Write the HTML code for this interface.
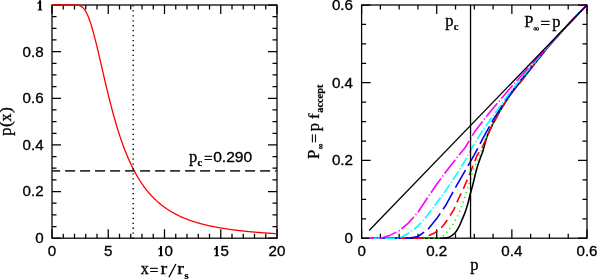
<!DOCTYPE html>
<html><head><meta charset="utf-8"><title>plot</title>
<style>html,body{margin:0;padding:0;background:#fff;}svg{display:block;will-change:transform;}</style></head>
<body><svg width="597" height="279" viewBox="0 0 597 279">
<rect width="597" height="279" fill="#fff"/>
<rect x="52.0" y="5.0" width="225.0" height="233.2" fill="none" stroke="#000" stroke-width="1.25"/>
<path d="M52.00 238.20v-9.0M52.00 5.00v9.0M63.25 238.20v-4.5M63.25 5.00v4.5M74.50 238.20v-4.5M74.50 5.00v4.5M85.75 238.20v-4.5M85.75 5.00v4.5M97.00 238.20v-4.5M97.00 5.00v4.5M108.25 238.20v-9.0M108.25 5.00v9.0M119.50 238.20v-4.5M119.50 5.00v4.5M130.75 238.20v-4.5M130.75 5.00v4.5M142.00 238.20v-4.5M142.00 5.00v4.5M153.25 238.20v-4.5M153.25 5.00v4.5M164.50 238.20v-9.0M164.50 5.00v9.0M175.75 238.20v-4.5M175.75 5.00v4.5M187.00 238.20v-4.5M187.00 5.00v4.5M198.25 238.20v-4.5M198.25 5.00v4.5M209.50 238.20v-4.5M209.50 5.00v4.5M220.75 238.20v-9.0M220.75 5.00v9.0M232.00 238.20v-4.5M232.00 5.00v4.5M243.25 238.20v-4.5M243.25 5.00v4.5M254.50 238.20v-4.5M254.50 5.00v4.5M265.75 238.20v-4.5M265.75 5.00v4.5M277.00 238.20v-9.0M277.00 5.00v9.0M52.00 238.20h9.0M277.00 238.20h-9.0M52.00 226.54h4.5M277.00 226.54h-4.5M52.00 214.88h4.5M277.00 214.88h-4.5M52.00 203.22h4.5M277.00 203.22h-4.5M52.00 191.56h9.0M277.00 191.56h-9.0M52.00 179.90h4.5M277.00 179.90h-4.5M52.00 168.24h4.5M277.00 168.24h-4.5M52.00 156.58h4.5M277.00 156.58h-4.5M52.00 144.92h9.0M277.00 144.92h-9.0M52.00 133.26h4.5M277.00 133.26h-4.5M52.00 121.60h4.5M277.00 121.60h-4.5M52.00 109.94h4.5M277.00 109.94h-4.5M52.00 98.28h9.0M277.00 98.28h-9.0M52.00 86.62h4.5M277.00 86.62h-4.5M52.00 74.96h4.5M277.00 74.96h-4.5M52.00 63.30h4.5M277.00 63.30h-4.5M52.00 51.64h9.0M277.00 51.64h-9.0M52.00 39.98h4.5M277.00 39.98h-4.5M52.00 28.32h4.5M277.00 28.32h-4.5M52.00 16.66h4.5M277.00 16.66h-4.5M52.00 5.00h9.0M277.00 5.00h-9.0" stroke="#000" stroke-width="1.25" fill="none"/>
<path d="M52.00 5.00 L52.56 5.00 L53.13 5.00 L53.69 5.00 L54.26 5.00 L54.82 5.00 L55.38 5.00 L55.95 5.00 L56.51 5.00 L57.08 5.00 L57.64 5.00 L58.20 5.00 L58.77 5.00 L59.33 5.00 L59.89 5.00 L60.46 5.00 L61.02 5.00 L61.59 5.00 L62.15 5.00 L62.71 5.00 L63.28 5.00 L63.84 5.00 L64.41 5.00 L64.97 5.00 L65.53 5.00 L66.10 5.00 L66.66 5.00 L67.23 5.00 L67.79 5.00 L68.35 5.00 L68.92 5.00 L69.48 5.00 L70.05 5.00 L70.61 5.00 L71.17 5.00 L71.74 5.00 L72.30 5.00 L72.86 5.00 L73.43 5.01 L73.99 5.01 L74.56 5.02 L75.12 5.03 L75.68 5.05 L76.25 5.08 L76.81 5.12 L77.38 5.18 L77.94 5.25 L78.50 5.36 L79.07 5.49 L79.63 5.66 L80.20 5.88 L80.76 6.14 L81.32 6.46 L81.89 6.84 L82.45 7.29 L83.02 7.81 L83.58 8.40 L84.14 9.08 L84.71 9.84 L85.27 10.69 L85.83 11.63 L86.40 12.65 L86.96 13.78 L87.53 14.99 L88.09 16.29 L88.65 17.68 L89.22 19.17 L89.78 20.73 L90.35 22.38 L90.91 24.11 L91.47 25.92 L92.04 27.79 L92.60 29.74 L93.17 31.75 L93.73 33.82 L94.29 35.94 L94.86 38.12 L95.42 40.34 L95.98 42.60 L96.55 44.90 L97.11 47.23 L97.68 49.59 L98.24 51.97 L98.80 54.37 L99.37 56.79 L99.93 59.23 L100.50 61.67 L101.06 64.12 L101.62 66.57 L102.19 69.02 L102.75 71.46 L103.32 73.91 L103.88 76.34 L104.44 78.76 L105.01 81.17 L105.57 83.57 L106.14 85.94 L106.70 88.30 L107.26 90.64 L107.83 92.96 L108.39 95.26 L108.95 97.53 L109.52 99.78 L110.08 102.01 L110.65 104.20 L111.21 106.37 L111.77 108.51 L112.34 110.63 L112.90 112.71 L113.47 114.77 L114.03 116.80 L114.59 118.79 L115.16 120.76 L115.72 122.70 L116.29 124.61 L116.85 126.49 L117.41 128.33 L117.98 130.15 L118.54 131.94 L119.11 133.70 L119.67 135.43 L120.23 137.13 L120.80 138.80 L121.36 140.44 L121.92 142.06 L122.49 143.64 L123.05 145.20 L123.62 146.73 L124.18 148.23 L124.74 149.71 L125.31 151.16 L125.87 152.58 L126.44 153.98 L127.00 155.35 L127.56 156.70 L128.13 158.02 L128.69 159.31 L129.26 160.59 L129.82 161.84 L130.38 163.07 L130.95 164.27 L131.51 165.45 L132.08 166.61 L132.64 167.75 L133.20 168.87 L133.77 169.96 L134.33 171.04 L134.89 172.10 L135.46 173.13 L136.02 174.15 L136.59 175.15 L137.15 176.13 L137.71 177.09 L138.28 178.03 L138.84 178.96 L139.41 179.87 L139.97 180.76 L140.53 181.63 L141.10 182.49 L141.66 183.34 L142.23 184.16 L142.79 184.98 L143.35 185.77 L143.92 186.56 L144.48 187.33 L145.05 188.08 L145.61 188.82 L146.17 189.55 L146.74 190.26 L147.30 190.96 L147.86 191.65 L148.43 192.33 L148.99 192.99 L149.56 193.64 L150.12 194.28 L150.68 194.91 L151.25 195.53 L151.81 196.13 L152.38 196.73 L152.94 197.32 L153.50 197.89 L154.07 198.45 L154.63 199.01 L155.20 199.55 L155.76 200.09 L156.32 200.62 L156.89 201.13 L157.45 201.64 L158.02 202.14 L158.58 202.63 L159.14 203.11 L159.71 203.58 L160.27 204.05 L160.83 204.51 L161.40 204.96 L161.96 205.40 L162.53 205.83 L163.09 206.26 L163.65 206.68 L164.22 207.10 L164.78 207.50 L165.35 207.90 L165.91 208.29 L166.47 208.68 L167.04 209.06 L167.60 209.43 L168.17 209.80 L168.73 210.16 L169.29 210.52 L169.86 210.87 L170.42 211.21 L170.98 211.55 L171.55 211.88 L172.11 212.21 L172.68 212.53 L173.24 212.85 L173.80 213.16 L174.37 213.47 L174.93 213.77 L175.50 214.07 L176.06 214.36 L176.62 214.65 L177.19 214.94 L177.75 215.22 L178.32 215.49 L178.88 215.76 L179.44 216.03 L180.01 216.29 L180.57 216.55 L181.14 216.81 L181.70 217.06 L182.26 217.30 L182.83 217.55 L183.39 217.79 L183.95 218.02 L184.52 218.25 L185.08 218.48 L185.65 218.71 L186.21 218.93 L186.77 219.15 L187.34 219.37 L187.90 219.58 L188.47 219.79 L189.03 219.99 L189.59 220.20 L190.16 220.40 L190.72 220.60 L191.29 220.79 L191.85 220.98 L192.41 221.17 L192.98 221.36 L193.54 221.54 L194.11 221.72 L194.67 221.90 L195.23 222.08 L195.80 222.25 L196.36 222.42 L196.92 222.59 L197.49 222.76 L198.05 222.92 L198.62 223.08 L199.18 223.24 L199.74 223.40 L200.31 223.55 L200.87 223.71 L201.44 223.86 L202.00 224.01 L202.56 224.15 L203.13 224.30 L203.69 224.44 L204.26 224.58 L204.82 224.72 L205.38 224.86 L205.95 224.99 L206.51 225.13 L207.08 225.26 L207.64 225.39 L208.20 225.52 L208.77 225.65 L209.33 225.77 L209.89 225.89 L210.46 226.02 L211.02 226.14 L211.59 226.25 L212.15 226.37 L212.71 226.49 L213.28 226.60 L213.84 226.71 L214.41 226.83 L214.97 226.94 L215.53 227.04 L216.10 227.15 L216.66 227.26 L217.23 227.36 L217.79 227.46 L218.35 227.57 L218.92 227.67 L219.48 227.77 L220.05 227.86 L220.61 227.96 L221.17 228.06 L221.74 228.15 L222.30 228.24 L222.86 228.34 L223.43 228.43 L223.99 228.52 L224.56 228.61 L225.12 228.69 L225.68 228.78 L226.25 228.87 L226.81 228.95 L227.38 229.04 L227.94 229.12 L228.50 229.20 L229.07 229.28 L229.63 229.36 L230.20 229.44 L230.76 229.52 L231.32 229.59 L231.89 229.67 L232.45 229.75 L233.02 229.82 L233.58 229.89 L234.14 229.97 L234.71 230.04 L235.27 230.11 L235.83 230.18 L236.40 230.25 L236.96 230.32 L237.53 230.38 L238.09 230.45 L238.65 230.52 L239.22 230.58 L239.78 230.65 L240.35 230.71 L240.91 230.77 L241.47 230.84 L242.04 230.90 L242.60 230.96 L243.17 231.02 L243.73 231.08 L244.29 231.14 L244.86 231.20 L245.42 231.26 L245.98 231.31 L246.55 231.37 L247.11 231.43 L247.68 231.48 L248.24 231.54 L248.80 231.59 L249.37 231.65 L249.93 231.70 L250.50 231.75 L251.06 231.80 L251.62 231.85 L252.19 231.91 L252.75 231.96 L253.32 232.01 L253.88 232.05 L254.44 232.10 L255.01 232.15 L255.57 232.20 L256.14 232.25 L256.70 232.29 L257.26 232.34 L257.83 232.39 L258.39 232.43 L258.95 232.48 L259.52 232.52 L260.08 232.56 L260.65 232.61 L261.21 232.65 L261.77 232.69 L262.34 232.74 L262.90 232.78 L263.47 232.82 L264.03 232.86 L264.59 232.90 L265.16 232.94 L265.72 232.98 L266.29 233.02 L266.85 233.06 L267.41 233.10 L267.98 233.13 L268.54 233.17 L269.11 233.21 L269.67 233.25 L270.23 233.28 L270.80 233.32 L271.36 233.36 L271.92 233.39 L272.49 233.43 L273.05 233.46 L273.62 233.50 L274.18 233.53 L274.74 233.56 L275.31 233.60 L275.87 233.63 L276.44 233.66 L277.00 233.70" stroke="#f00" stroke-width="1.3" fill="none" stroke-linejoin="round"/>
<path d="M52.0 170.87H277.0" stroke="#333" stroke-width="1.8" stroke-dasharray="10 5" stroke-dashoffset="1.9" fill="none"/>
<path d="M133.2 238.79999999999998V5.0" stroke="#000" stroke-width="1.4" stroke-dasharray="1.3 3.64" fill="none"/>
<text transform="translate(43.60 243.10) scale(1.1 1)" text-anchor="end" font-family="Liberation Sans, sans-serif" font-size="13.8" stroke="#000" stroke-width="0.3" >0</text>
<text transform="translate(43.60 196.46) scale(1.1 1)" text-anchor="end" font-family="Liberation Sans, sans-serif" font-size="13.8" stroke="#000" stroke-width="0.3" >0.2</text>
<text transform="translate(43.60 149.82) scale(1.1 1)" text-anchor="end" font-family="Liberation Sans, sans-serif" font-size="13.8" stroke="#000" stroke-width="0.3" >0.4</text>
<text transform="translate(43.60 103.18) scale(1.1 1)" text-anchor="end" font-family="Liberation Sans, sans-serif" font-size="13.8" stroke="#000" stroke-width="0.3" >0.6</text>
<text transform="translate(43.60 56.54) scale(1.1 1)" text-anchor="end" font-family="Liberation Sans, sans-serif" font-size="13.8" stroke="#000" stroke-width="0.3" >0.8</text>
<path d="M39.10 0.30h2v9.1h1.1v1h-4.5v-1h1.4v-6.3l-1.5 1-0.5-0.9 2-1.6z" fill="#000"/>
<text transform="translate(52.00 256.20) scale(1.1 1)" text-anchor="middle" font-family="Liberation Sans, sans-serif" font-size="13.8" stroke="#000" stroke-width="0.3" >0</text>
<text transform="translate(108.25 256.20) scale(1.1 1)" text-anchor="middle" font-family="Liberation Sans, sans-serif" font-size="13.8" stroke="#000" stroke-width="0.3" >5</text>
<text transform="translate(277.00 256.20) scale(1.1 1)" text-anchor="middle" font-family="Liberation Sans, sans-serif" font-size="13.8" stroke="#000" stroke-width="0.3" >20</text>
<path d="M160.00 246.10h2v9.1h1.1v1h-4.5v-1h1.4v-6.3l-1.5 1-0.5-0.9 2-1.6z" fill="#000"/>
<text transform="translate(164.50 256.20) scale(1.1 1)" text-anchor="start" font-family="Liberation Sans, sans-serif" font-size="13.8" stroke="#000" stroke-width="0.3" >0</text>
<path d="M215.80 246.10h2v9.1h1.1v1h-4.5v-1h1.4v-6.3l-1.5 1-0.5-0.9 2-1.6z" fill="#000"/>
<text transform="translate(220.60 256.20) scale(1.1 1)" text-anchor="start" font-family="Liberation Sans, sans-serif" font-size="13.8" stroke="#000" stroke-width="0.3" >5</text>
<text transform="translate(353.00 243.10) scale(1.1 1)" text-anchor="end" font-family="Liberation Sans, sans-serif" font-size="13.8" stroke="#000" stroke-width="0.3" >0</text>
<text transform="translate(361.60 256.20) scale(1.1 1)" text-anchor="middle" font-family="Liberation Sans, sans-serif" font-size="13.8" stroke="#000" stroke-width="0.3" >0</text>
<text transform="translate(353.00 165.37) scale(1.1 1)" text-anchor="end" font-family="Liberation Sans, sans-serif" font-size="13.8" stroke="#000" stroke-width="0.3" >0.2</text>
<text transform="translate(436.73 256.20) scale(1.1 1)" text-anchor="middle" font-family="Liberation Sans, sans-serif" font-size="13.8" stroke="#000" stroke-width="0.3" >0.2</text>
<text transform="translate(353.00 87.63) scale(1.1 1)" text-anchor="end" font-family="Liberation Sans, sans-serif" font-size="13.8" stroke="#000" stroke-width="0.3" >0.4</text>
<text transform="translate(511.87 256.20) scale(1.1 1)" text-anchor="middle" font-family="Liberation Sans, sans-serif" font-size="13.8" stroke="#000" stroke-width="0.3" >0.4</text>
<text transform="translate(353.00 9.90) scale(1.1 1)" text-anchor="end" font-family="Liberation Sans, sans-serif" font-size="13.8" stroke="#000" stroke-width="0.3" >0.6</text>
<text transform="translate(587.00 256.20) scale(1.1 1)" text-anchor="middle" font-family="Liberation Sans, sans-serif" font-size="13.8" stroke="#000" stroke-width="0.3" >0.6</text>
<rect x="361.6" y="5.0" width="225.39999999999998" height="233.2" fill="none" stroke="#000" stroke-width="1.25"/>
<path d="M361.60 238.20v-9.0M361.60 5.00v9.0M380.38 238.20v-4.5M380.38 5.00v4.5M399.17 238.20v-4.5M399.17 5.00v4.5M417.95 238.20v-4.5M417.95 5.00v4.5M436.73 238.20v-9.0M436.73 5.00v9.0M455.52 238.20v-4.5M455.52 5.00v4.5M474.30 238.20v-4.5M474.30 5.00v4.5M493.08 238.20v-4.5M493.08 5.00v4.5M511.87 238.20v-9.0M511.87 5.00v9.0M530.65 238.20v-4.5M530.65 5.00v4.5M549.43 238.20v-4.5M549.43 5.00v4.5M568.22 238.20v-4.5M568.22 5.00v4.5M587.00 238.20v-9.0M587.00 5.00v9.0M361.60 238.20h9.0M587.00 238.20h-9.0M361.60 218.77h4.5M587.00 218.77h-4.5M361.60 199.33h4.5M587.00 199.33h-4.5M361.60 179.90h4.5M587.00 179.90h-4.5M361.60 160.47h9.0M587.00 160.47h-9.0M361.60 141.03h4.5M587.00 141.03h-4.5M361.60 121.60h4.5M587.00 121.60h-4.5M361.60 102.17h4.5M587.00 102.17h-4.5M361.60 82.73h9.0M587.00 82.73h-9.0M361.60 63.30h4.5M587.00 63.30h-4.5M361.60 43.87h4.5M587.00 43.87h-4.5M361.60 24.43h4.5M587.00 24.43h-4.5M361.60 5.00h9.0M587.00 5.00h-9.0" stroke="#000" stroke-width="1.25" fill="none"/>
<clipPath id="rc"><rect x="361.6" y="4.0" width="226.39999999999998" height="235.2"/></clipPath>
<path d="M369.11 238.20 L369.86 238.20 L370.62 238.20 L371.37 238.20 L372.12 238.20 L372.87 238.20 L373.62 238.20 L374.37 238.20 L375.12 238.20 L375.88 238.20 L376.63 238.20 L377.38 238.20 L378.13 238.20 L378.88 238.20 L379.63 238.20 L380.38 238.20 L381.13 238.20 L381.89 238.20 L382.64 238.20 L383.39 238.20 L384.14 238.20 L384.89 238.20 L385.64 238.20 L386.39 238.20 L387.15 238.20 L387.90 238.20 L388.65 238.20 L389.40 238.20 L390.15 238.20 L390.90 238.20 L391.65 238.20 L392.40 238.20 L393.16 238.20 L393.91 238.20 L394.66 238.20 L395.41 238.20 L396.16 238.20 L396.91 238.20 L397.66 238.20 L398.42 238.20 L399.17 238.20 L399.92 238.20 L400.67 238.20 L401.42 238.20 L402.17 238.20 L402.92 238.20 L403.67 238.20 L404.43 238.20 L405.18 238.20 L405.93 238.20 L406.68 238.20 L407.43 238.20 L408.18 238.20 L408.93 238.20 L409.69 238.20 L410.44 238.20 L411.19 238.20 L411.94 238.20 L412.69 238.20 L413.44 238.20 L414.19 238.20 L414.94 238.20 L415.70 238.20 L416.45 238.20 L417.20 238.20 L417.95 238.20 L418.70 238.20 L419.45 238.20 L420.20 238.20 L420.96 238.20 L421.71 238.20 L422.46 238.20 L423.21 238.20 L423.96 238.20 L424.71 238.20 L425.46 238.20 L426.21 238.20 L426.97 238.20 L427.72 238.20 L428.47 238.20 L429.22 238.20 L429.97 238.20 L430.72 238.20 L431.47 238.20 L432.23 238.20 L432.98 238.20 L433.73 238.20 L434.48 238.20 L435.23 238.20 L435.98 238.20 L436.73 238.20 L437.48 238.20 L438.24 238.20 L438.99 238.20 L439.74 238.20 L440.49 238.20 L441.24 238.20 L441.99 238.19 L442.74 238.16 L443.50 238.10 L444.25 238.02 L445.00 237.93 L445.75 237.82 L446.50 237.70 L447.25 237.57 L448.00 237.42 L448.75 237.23 L449.51 236.94 L450.26 236.57 L451.01 236.14 L451.76 235.64 L452.51 235.08 L453.26 234.49 L454.01 233.85 L454.77 233.14 L455.52 232.25 L456.27 231.20 L457.02 230.04 L457.77 228.80 L458.52 227.50 L459.27 226.04 L460.02 224.43 L460.78 222.72 L461.53 220.96 L462.28 219.19 L463.03 217.44 L463.78 215.64 L464.53 213.76 L465.28 211.75 L466.04 209.56 L466.79 207.17 L467.54 204.62 L468.29 201.93 L469.04 198.95 L469.79 195.80 L470.54 192.93 L471.29 190.20 L472.05 187.49 L472.80 184.65 L473.55 181.62 L474.30 178.49 L475.05 175.36 L475.80 172.32 L476.55 169.47 L477.31 166.89 L478.06 164.52 L478.81 162.28 L479.56 160.14 L480.31 158.04 L481.06 155.99 L481.81 154.04 L482.56 151.91 L483.32 149.46 L484.07 146.81 L484.82 144.07 L485.57 141.38 L486.32 138.84 L487.07 136.59 L487.82 134.64 L488.58 132.81 L489.33 131.08 L490.08 129.44 L490.83 127.86 L491.58 126.35 L492.33 124.88 L493.08 123.46 L493.83 122.06 L494.59 120.68 L495.34 119.30 L496.09 117.92 L496.84 116.54 L497.59 115.17 L498.34 113.83 L499.09 112.51 L499.85 111.20 L500.60 109.92 L501.35 108.65 L502.10 107.40 L502.85 106.17 L503.60 104.96 L504.35 103.76 L505.10 102.57 L505.86 101.41 L506.61 100.25 L507.36 99.12 L508.11 98.01 L508.86 96.91 L509.61 95.84 L510.36 94.78 L511.12 93.73 L511.87 92.70 L512.62 91.69 L513.37 90.69 L514.12 89.71 L514.87 88.74 L515.62 87.80 L516.37 86.86 L517.13 85.94 L517.88 85.02 L518.63 84.11 L519.38 83.20 L520.13 82.29 L520.88 81.37 L521.63 80.45 L522.39 79.52 L523.14 78.57 L523.89 77.62 L524.64 76.66 L525.39 75.69 L526.14 74.71 L526.89 73.74 L527.64 72.77 L528.40 71.79 L529.15 70.82 L529.90 69.86 L530.65 68.90 L531.40 67.94 L532.15 66.98 L532.90 66.03 L533.66 65.07 L534.41 64.11 L535.16 63.15 L535.91 62.19 L536.66 61.23 L537.41 60.28 L538.16 59.32 L538.91 58.37 L539.67 57.42 L540.42 56.47 L541.17 55.53 L541.92 54.58 L542.67 53.65 L543.42 52.71 L544.17 51.78 L544.93 50.86 L545.68 49.94 L546.43 49.02 L547.18 48.11 L547.93 47.21 L548.68 46.31 L549.43 45.42 L550.18 44.54 L550.94 43.66 L551.69 42.78 L552.44 41.91 L553.19 41.05 L553.94 40.19 L554.69 39.33 L555.44 38.48 L556.20 37.63 L556.95 36.78 L557.70 35.94 L558.45 35.10 L559.20 34.26 L559.95 33.43 L560.70 32.60 L561.45 31.77 L562.21 30.95 L562.96 30.13 L563.71 29.31 L564.46 28.49 L565.21 27.68 L565.96 26.86 L566.71 26.05 L567.47 25.24 L568.22 24.43 L568.97 23.63 L569.72 22.82 L570.47 22.02 L571.22 21.22 L571.97 20.43 L572.72 19.63 L573.48 18.84 L574.23 18.05 L574.98 17.26 L575.73 16.48 L576.48 15.70 L577.23 14.92 L577.98 14.14 L578.74 13.36 L579.49 12.59 L580.24 11.82 L580.99 11.05 L581.74 10.29 L582.49 9.52 L583.24 8.76 L583.99 8.01 L584.75 7.25 L585.50 6.50 L586.25 5.75 L587.00 5.00" stroke="#000" stroke-width="1.6" fill="none" stroke-linejoin="round"  clip-path="url(#rc)"/>
<path d="M369.11 238.20 L373.81 238.20 L378.50 238.20 L383.20 238.20 L387.90 238.20 L392.59 238.20 L397.29 238.20 L401.98 238.20 L406.68 238.20 L411.38 238.20 L416.07 238.20 L420.77 238.20 L425.46 238.20 L430.16 238.20 L434.86 238.20 L439.55 237.76 L444.25 234.97 L448.94 229.82 L453.64 223.29 L458.33 214.87 L463.03 202.61 L467.73 188.41 L472.42 173.19 L477.12 160.52 L481.81 149.44 L486.51 137.84 L491.21 127.50 L495.90 118.27 L500.60 109.92 L505.29 102.28 L509.99 95.30 L514.68 88.98 L519.38 83.20 L524.08 77.38 L528.77 71.31 L533.47 65.31 L538.16 59.32 L542.86 53.41 L547.56 47.66 L552.25 42.13 L556.95 36.78 L561.64 31.57 L566.34 26.46 L571.03 21.42 L575.73 16.48 L580.43 11.63 L585.12 6.87" stroke="#0f0" stroke-width="1.6" fill="none" stroke-linejoin="round" stroke-dasharray="1.3 3.64" stroke-dashoffset="0" clip-path="url(#rc)"/>
<path d="M369.11 238.20 L373.81 238.20 L378.50 238.20 L383.20 238.20 L387.90 238.20 L392.59 238.20 L397.29 238.20 L401.98 238.20 L406.68 238.20 L411.38 238.20 L416.07 238.20 L420.77 238.20 L425.46 237.27 L430.16 234.96 L434.86 232.67 L439.55 229.70 L444.25 224.28 L448.94 217.47 L453.64 210.04 L458.33 199.17 L463.03 189.62 L467.73 178.73 L472.42 167.18 L477.12 155.19 L481.81 148.10 L486.51 137.91 L491.21 127.50 L495.90 118.27 L500.60 109.92 L505.29 102.28 L509.99 95.30 L514.68 88.98 L519.38 83.20 L524.08 77.38 L528.77 71.31 L533.47 65.31 L538.16 59.32 L542.86 53.41 L547.56 47.66 L552.25 42.13 L556.95 36.78 L561.64 31.57 L566.34 26.46 L571.03 21.42 L575.73 16.48 L580.43 11.63 L585.12 6.87" stroke="#f00" stroke-width="1.6" fill="none" stroke-linejoin="round" stroke-dasharray="10 5" stroke-dashoffset="0" clip-path="url(#rc)"/>
<path d="M369.11 238.20 L370.99 238.20 L380.38 238.20 L389.78 238.20 L399.17 238.20 L408.56 238.20 L417.95 236.47 L427.34 229.97 L436.73 218.59 L446.12 204.69 L455.52 187.43 L464.91 171.09 L474.30 154.95 L483.69 136.92 L493.08 119.92 L502.48 105.12 L511.87 91.67 L521.26 79.38 L530.65 67.65 L540.04 56.24 L549.43 45.23 L558.83 34.64 L568.22 24.43 L577.61 14.55 L587.00 5.00" stroke="#00f" stroke-width="1.6" fill="none" stroke-linejoin="round" stroke-dasharray="20 5" stroke-dashoffset="-11.5" clip-path="url(#rc)"/>
<path d="M369.11 238.20 L370.99 238.20 L380.38 238.20 L389.78 238.20 L399.17 238.20 L408.56 233.26 L417.95 226.26 L427.34 215.50 L436.73 202.80 L446.12 190.09 L455.52 175.84 L464.91 160.95 L474.30 143.70 L483.69 129.04 L493.08 115.97 L502.48 102.53 L511.87 90.12 L521.26 78.26 L530.65 66.80 L540.04 55.63 L549.43 44.84 L558.83 34.48 L568.22 24.43 L577.61 14.60 L587.00 5.00" stroke="#0ff" stroke-width="1.6" fill="none" stroke-linejoin="round" stroke-dasharray="10 2.3 1.2 2.3" stroke-dashoffset="0" clip-path="url(#rc)"/>
<path d="M369.11 238.20 L370.99 238.20 L380.38 238.20 L389.78 235.40 L399.17 230.76 L408.56 222.85 L417.95 212.20 L427.34 198.03 L436.73 184.24 L446.12 171.41 L455.52 159.30 L464.91 148.01 L474.30 132.31 L483.69 119.85 L493.08 108.34 L502.48 97.22 L511.87 86.23 L521.26 75.74 L530.65 65.40 L540.04 54.87 L549.43 44.45 L558.83 34.35 L568.22 24.43 L577.61 14.64 L587.00 5.00" stroke="#f0f" stroke-width="1.6" fill="none" stroke-linejoin="round" stroke-dasharray="17.5 2.4 1.2 2.4" stroke-dashoffset="-11" clip-path="url(#rc)"/>
<path d="M369.11 230.43L587.00 5.00" stroke="#000" stroke-width="1.3" fill="none"/>
<path d="M470.54 5.0V238.2" stroke="#000" stroke-width="1.3" fill="none"/>
<text transform="translate(140.70 274.30) scale(1.0 1)" font-family="Liberation Serif, serif" font-size="16.0"  stroke="#000" stroke-width="0.32">x</text>
<text transform="translate(149.60 276.10) scale(0.98 1)" font-family="Liberation Serif, serif" font-size="16.0"  stroke="#000" stroke-width="0.32">=</text>
<text transform="translate(160.50 274.30) scale(1.25 1)" font-family="Liberation Serif, serif" font-size="16.0"  stroke="#000" stroke-width="0.32">r</text>
<path d="M168.9 277.2L175.9 264" stroke="#000" stroke-width="1.35" fill="none"/>
<text transform="translate(177.30 274.30) scale(1.25 1)" font-family="Liberation Serif, serif" font-size="16.0"  stroke="#000" stroke-width="0.32">r</text>
<text transform="translate(184.40 278.50) scale(1.1 1)" font-family="Liberation Serif, serif" font-size="9.5" font-weight="bold" stroke="#000" stroke-width="0.25">s</text>
<text transform="translate(470.20 270.20) scale(1.03 1)" font-family="Liberation Serif, serif" font-size="16.0"  stroke="#000" stroke-width="0.32">p</text>
<text transform="translate(188.90 162.00) scale(1.03 1)" font-family="Liberation Serif, serif" font-size="16.0"  stroke="#000" stroke-width="0.32">p</text>
<text transform="translate(197.40 166.00) scale(1.1 1)" font-family="Liberation Serif, serif" font-size="9.5" font-weight="bold" stroke="#000" stroke-width="0.25">c</text>
<text transform="translate(204.00 164.10) scale(0.95 1)" font-family="Liberation Serif, serif" font-size="16.0"  stroke="#000" stroke-width="0.32">=</text>
<text x="213.2" y="162.3" font-family="Liberation Sans, sans-serif" font-size="13.8" stroke="#000" stroke-width="0.3" textLength="39" lengthAdjust="spacingAndGlyphs">0.290</text>
<text transform="translate(445.20 26.10) scale(1.03 1)" font-family="Liberation Serif, serif" font-size="16.0"  stroke="#000" stroke-width="0.32">p</text>
<text transform="translate(453.70 30.20) scale(1.1 1)" font-family="Liberation Serif, serif" font-size="9.5" font-weight="bold" stroke="#000" stroke-width="0.25">c</text>
<text transform="translate(524.30 27.00) scale(1.03 1)" font-family="Liberation Serif, serif" font-size="16.0"  stroke="#000" stroke-width="0.32">P</text>
<text transform="translate(533.60 31.00) scale(1.0 1)" font-family="Liberation Serif, serif" font-size="7.6" font-weight="bold" stroke="#000" stroke-width="0.45">∞</text>
<text transform="translate(540.30 28.80) scale(1.1 1)" font-family="Liberation Serif, serif" font-size="16.0"  stroke="#000" stroke-width="0.32">=</text>
<text transform="translate(552.20 27.00) scale(1.03 1)" font-family="Liberation Serif, serif" font-size="16.0"  stroke="#000" stroke-width="0.32">p</text>
<g transform="translate(11.3 135.8) rotate(-90)">
<text transform="translate(0.00 0.00) scale(1.03 1)" font-family="Liberation Serif, serif" font-size="16.0"  stroke="#000" stroke-width="0.32">p</text>
<text transform="translate(8.80 0.00) scale(1.1 1)" font-family="Liberation Serif, serif" font-size="16.0"  stroke="#000" stroke-width="0.32">(</text>
<text transform="translate(14.40 0.00) scale(1.0 1)" font-family="Liberation Serif, serif" font-size="16.0"  stroke="#000" stroke-width="0.32">x</text>
<text transform="translate(22.80 0.00) scale(1.1 1)" font-family="Liberation Serif, serif" font-size="16.0"  stroke="#000" stroke-width="0.32">)</text>
</g>
<g transform="translate(318.5 159.0) rotate(-90)">
<text transform="translate(0.00 0.00) scale(1.03 1)" font-family="Liberation Serif, serif" font-size="16.0"  stroke="#000" stroke-width="0.32">P</text>
<text transform="translate(9.80 4.50) scale(1.0 1)" font-family="Liberation Serif, serif" font-size="7.6" font-weight="bold" stroke="#000" stroke-width="0.45">∞</text>
<text transform="translate(15.90 1.80) scale(1.0 1)" font-family="Liberation Serif, serif" font-size="16.0"  stroke="#000" stroke-width="0.32">=</text>
<text transform="translate(27.80 0.00) scale(1.03 1)" font-family="Liberation Serif, serif" font-size="16.0"  stroke="#000" stroke-width="0.32">p</text>
<text transform="translate(40.00 0.00) scale(1.15 1)" font-family="Liberation Serif, serif" font-size="14.4"  stroke="#000" stroke-width="0.25">f</text>
<text x="46.2" y="4.0" font-family="Liberation Serif, serif" font-size="9.5" font-weight="bold" stroke="#000" stroke-width="0.2" textLength="28.3" lengthAdjust="spacingAndGlyphs">accept</text>
</g>
</svg></body></html>
